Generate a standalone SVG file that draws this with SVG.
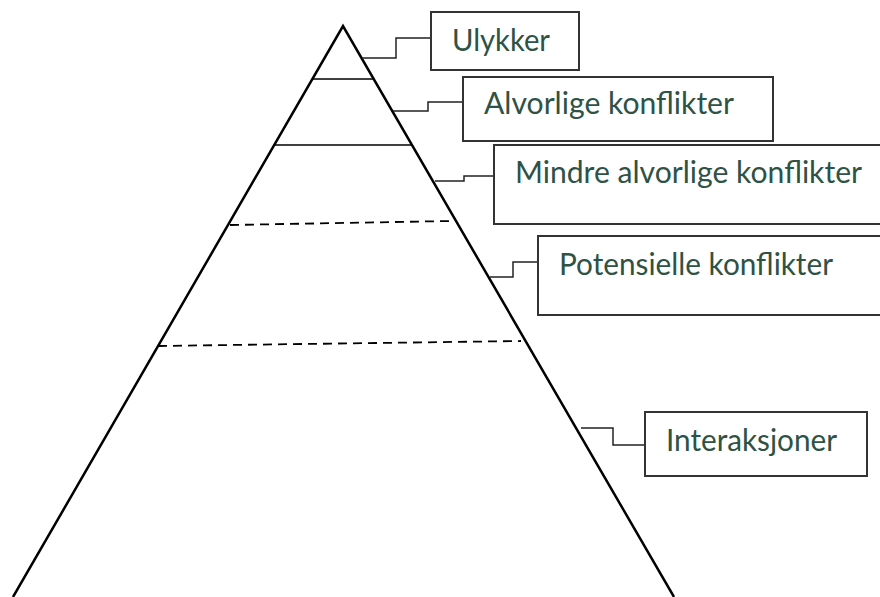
<svg xmlns="http://www.w3.org/2000/svg" width="880" height="597" viewBox="0 0 880 597">
<style>
.tri{fill:none;stroke:#000;stroke-width:2.5;stroke-linejoin:miter}
.lvl{fill:none;stroke:#000;stroke-width:1.6}
.dash{fill:none;stroke:#000;stroke-width:1.8;stroke-dasharray:9 6}
.box{fill:#fff;stroke:#333;stroke-width:2}
.con{fill:none;stroke:#222;stroke-width:1.5}
.lbl{font-family:Lato,"Liberation Sans",sans-serif;font-size:30px;fill:#2e5245}
</style>
<rect width="880" height="597" fill="#fff"/>
<g id="pyramid">
<polyline class="tri" points="13,597 343,26 674,597"/>
<line class="lvl" x1="312" y1="79" x2="373" y2="79"/>
<line class="lvl" x1="274" y1="145" x2="412" y2="145"/>
<line class="dash" x1="230" y1="225" x2="451" y2="221"/>
<line class="dash" x1="158" y1="346" x2="521" y2="341"/>
</g>
<g id="connectors">
<path class="con" d="M362,58 H396 V38 H431"/>
<path class="con" d="M393,111 H428 V102 H463"/>
<path class="con" d="M435,181 H464 V176 H494"/>
<path class="con" d="M490,277 H513 V262 H538"/>
<path class="con" d="M581,428 H613 V445 H645"/>
</g>
<g id="ulykker">
<rect class="box" x="431" y="12" width="148" height="58"/>
<text class="lbl" x="452" y="51" textLength="98" lengthAdjust="spacingAndGlyphs">Ulykker</text>
</g>
<g id="alvorlige">
<rect class="box" x="463" y="77" width="310" height="64"/>
<text class="lbl" x="484" y="114" textLength="250" lengthAdjust="spacingAndGlyphs">Alvorlige konflikter</text>
</g>
<g id="mindre">
<rect class="box" x="494" y="145" width="400" height="79"/>
<text class="lbl" x="515" y="183" textLength="347" lengthAdjust="spacingAndGlyphs">Mindre alvorlige konflikter</text>
</g>
<g id="potensielle">
<rect class="box" x="538" y="236" width="360" height="79"/>
<text class="lbl" x="559" y="275" textLength="274" lengthAdjust="spacingAndGlyphs">Potensielle konflikter</text>
</g>
<g id="interaksjoner">
<rect class="box" x="645" y="412" width="222" height="64"/>
<text class="lbl" x="666" y="451" textLength="171" lengthAdjust="spacingAndGlyphs">Interaksjoner</text>
</g>
</svg>
